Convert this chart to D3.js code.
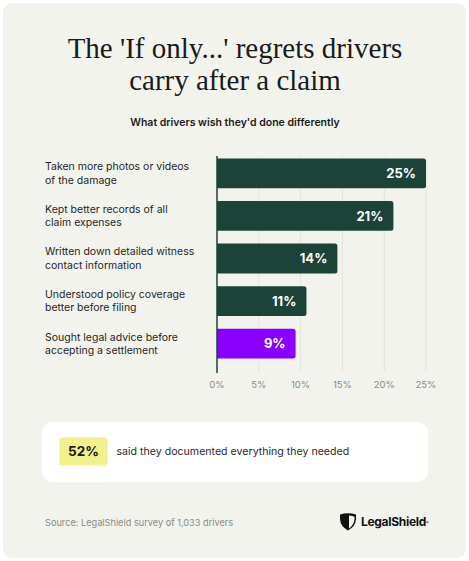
<!DOCTYPE html>
<html>
<head>
<meta charset="utf-8">
<style>
  body { margin: 0; background: #ffffff; }
  svg { display: block; }
  text { font-family: Inter, "Noto Sans", sans-serif; }
  .title { font-family: "Liberation Serif", "DejaVu Serif", serif; fill: #1a1a1a; }
</style>
</head>
<body>
<script src="https://d3js.org/d3.v7.min.js"></script>
<script>

// data
var categories = [
  ["Taken more photos or videos", "of the damage"],
  ["Kept better records of all", "claim expenses"],
  ["Written down detailed witness", "contact information"],
  ["Understood policy coverage", "better before filing"],
  ["Sought legal advice before", "accepting a settlement"]
];
var values = [25, 21.1, 14.4, 10.7, 9.4];
var highlight = [false, false, false, false, true];
var tickValues = [0, 5, 10, 15, 20, 25];
var calloutValue = "52%";
var calloutText = "said they documented everything they needed";

var width = 469, height = 561;

var svg = d3.select("body").append("svg")
    .attr("width", width)
    .attr("height", height);

// card
svg.append("rect")
    .attr("x", 3).attr("y", 3)
    .attr("width", 463).attr("height", 555)
    .attr("rx", 9)
    .attr("fill", "#f3f3ed");

// title
var title = svg.append("text")
    .attr("class", "title")
    .attr("text-anchor", "middle")
    .style("font-size", "29px");
title.append("tspan").attr("x", 235).attr("y", 58).text("The 'If only...' regrets drivers");
title.append("tspan").attr("x", 235).attr("y", 90).text("carry after a claim");

svg.append("text")
    .attr("x", 235).attr("y", 126)
    .attr("text-anchor", "middle")
    .style("font-size", "10.5px")
    .style("font-weight", 600)
    .style("fill", "#1a1a1a")
    .text("What drivers wish they'd done differently");

// scales
var x = d3.scaleLinear().domain([0, 25]).range([217, 426]);
var y = d3.scaleBand().domain(d3.range(values.length)).range([152, 365]).paddingInner(0.3).paddingOuter(0.15);

// gridlines
svg.append("g")
  .selectAll("line")
  .data(tickValues.slice(1))
  .join("line")
    .attr("x1", function(d) { return x(d); })
    .attr("x2", function(d) { return x(d); })
    .attr("y1", 156)
    .attr("y2", 372)
    .attr("stroke", "#e4e4dc")
    .attr("stroke-width", 1);

// bars
var r = 2.5;
svg.append("g")
  .selectAll("path")
  .data(values)
  .join("path")
    .attr("fill", function(d, i) { return highlight[i] ? "#8a00ff" : "#1d4339"; })
    .attr("d", function(d, i) {
      var x0 = x(0), x1 = x(d), y0 = y(i), h = y.bandwidth();
      return "M" + x0 + "," + y0 +
        "H" + (x1 - r) + "Q" + x1 + "," + y0 + " " + x1 + "," + (y0 + r) +
        "V" + (y0 + h - r) + "Q" + x1 + "," + (y0 + h) + " " + (x1 - r) + "," + (y0 + h) +
        "H" + x0 + "Z";
    });

// value labels
svg.append("g")
  .selectAll("text")
  .data(values)
  .join("text")
    .attr("x", function(d) { return x(d) - 10; })
    .attr("y", function(d, i) { return y(i) + y.bandwidth() / 2; })
    .attr("dy", "0.36em")
    .attr("text-anchor", "end")
    .style("font-size", "13px")
    .style("font-weight", 700)
    .style("fill", "#ffffff")
    .text(function(d) { return Math.round(d) + "%"; });

// axis line
svg.append("line")
    .attr("x1", x(0)).attr("x2", x(0))
    .attr("y1", 156).attr("y2", 373)
    .attr("stroke", "#1d4339")
    .attr("stroke-width", 1.5);

// category labels
var labels = svg.append("g")
  .selectAll("text")
  .data(categories)
  .join("text")
    .attr("y", function(d, i) { return y(i) + y.bandwidth() / 2; })
    .style("font-size", "10.5px")
    .style("fill", "#1f1f1f");
labels.append("tspan")
    .attr("x", 45).attr("dy", "-0.3em")
    .text(function(d) { return d[0]; });
labels.append("tspan")
    .attr("x", 45).attr("dy", "1.28em")
    .text(function(d) { return d[1]; });

// tick labels
svg.append("g")
  .selectAll("text")
  .data(tickValues)
  .join("text")
    .attr("x", function(d) { return x(d); })
    .attr("y", 385)
    .attr("dy", "0.35em")
    .attr("text-anchor", "middle")
    .style("font-size", "9.5px")
    .style("fill", "#8a8a85")
    .text(function(d) { return d + "%"; });

// callout
svg.append("rect")
    .attr("x", 42).attr("y", 422)
    .attr("width", 386).attr("height", 60)
    .attr("rx", 11)
    .attr("fill", "#ffffff");
svg.append("rect")
    .attr("x", 59.5).attr("y", 437.5)
    .attr("width", 48).attr("height", 28)
    .attr("rx", 3)
    .attr("fill", "#f0f08c");
svg.append("text")
    .attr("x", 83.5).attr("y", 451.5)
    .attr("dy", "0.36em")
    .attr("text-anchor", "middle")
    .style("font-size", "13.5px")
    .style("font-weight", 700)
    .style("fill", "#1a1a1a")
    .text(calloutValue);
svg.append("text")
    .attr("x", 116.5).attr("y", 451.5)
    .attr("dy", "0.36em")
    .style("font-size", "10.6px")
    .style("fill", "#2a2a2a")
    .text(calloutText);

// footer
svg.append("text")
    .attr("x", 45).attr("y", 522.5)
    .attr("dy", "0.36em")
    .style("font-size", "9.2px")
    .style("fill", "#8a8a85")
    .text("Source: LegalShield survey of 1,033 drivers");

// logo
svg.append("path")
    .attr("d", "M340,514.5 Q348,512 356,514.5 L356,519 Q355.5,526.5 348,530.5 Q340.5,526.5 340,519 Z")
    .attr("fill", "#111111");
svg.append("path")
    .attr("d", "M349,515.5 Q352.5,516 354.5,516.8 L354.5,519 Q354,525 349,528.5 Z")
    .attr("fill", "#f3f3ed");
var logo = svg.append("text")
    .attr("x", 361).attr("y", 522)
    .attr("dy", "0.36em")
    .style("font-size", "12px")
    .style("font-weight", 700)
    .style("letter-spacing", "-0.3px")
    .style("fill", "#111111");
logo.append("tspan").text("LegalShield");
logo.append("tspan")
    .attr("dy", "-0.6em")
    .style("font-size", "4px")
    .text("®");

</script>
</body>
</html>
